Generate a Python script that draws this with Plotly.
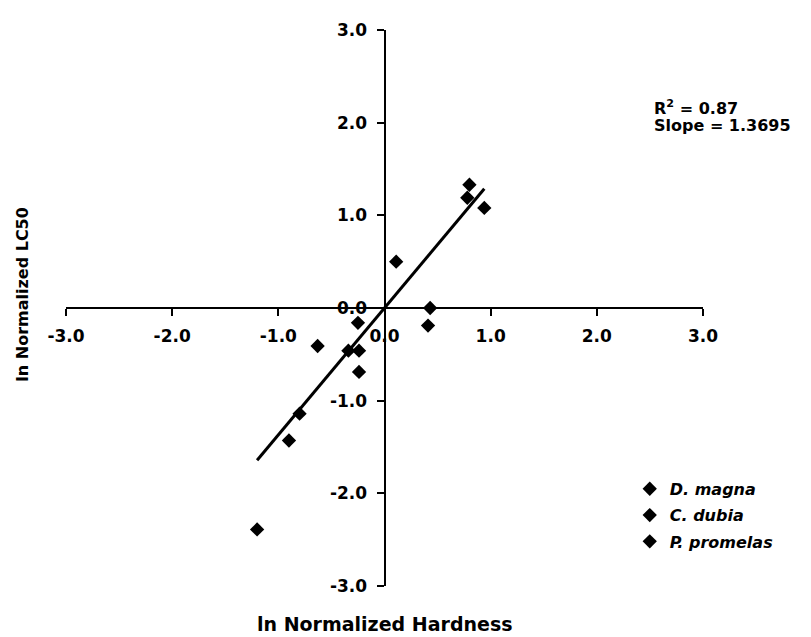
import plotly.graph_objects as go

# ---- data ----
dmagna_x = [-1.20, -0.90, -0.80, -0.25, 0.43]
dmagna_y = [-2.39, -1.43, -1.14, -0.16, 0.00]
cdubia_x = [-0.63, -0.34, -0.24, 0.11, 0.80]
cdubia_y = [-0.41, -0.46, -0.46, 0.50, 1.33]
ppromelas_x = [-0.24, 0.41, 0.78, 0.94]
ppromelas_y = [-0.69, -0.19, 1.19, 1.08]

slope = 1.3695
intercept = 0.0
r_squared = 0.87

tick_vals = [-3, -2, -1, 0, 1, 2, 3]
tick_text = ["-3.0", "-2.0", "-1.0", "0.0", "1.0", "2.0", "3.0"]

series_names = ["D. magna", "C. dubia", "P. promelas"]

FONT = "DejaVu Sans"

fig = go.Figure()
marker = dict(symbol="diamond", size=11, color="black")
for name, xs, ys in zip(series_names,
                        [dmagna_x, cdubia_x, ppromelas_x],
                        [dmagna_y, cdubia_y, ppromelas_y]):
    fig.add_trace(go.Scatter(x=xs, y=ys, mode="markers", name=name, legendgroup=name,
                             marker=marker, cliponaxis=False))

all_x = dmagna_x + cdubia_x + ppromelas_x
x0, x1 = min(all_x), max(all_x)
fig.add_trace(go.Scatter(x=[x0, x1], y=[slope * x0 + intercept, slope * x1 + intercept],
                         mode="lines", line=dict(color="black", width=3),
                         showlegend=False, hoverinfo="skip"))

axis_common = dict(range=[-3, 3], showgrid=False, zeroline=False, showline=True,
                   linecolor="black", linewidth=2, ticks="outside", ticklen=7,
                   tickwidth=2, tickcolor="black", tickvals=tick_vals, ticktext=tick_text,
                   tickfont=dict(family=FONT, size=17, color="black", weight="bold"),
                   anchor="free", position=0.5)

fig.update_layout(
    width=811, height=637,
    margin=dict(l=58, r=116, t=15, b=59),
    paper_bgcolor="white", plot_bgcolor="white",
    xaxis=dict(**axis_common, side="bottom", ticklabelstandoff=6),
    yaxis=dict(**axis_common, side="left", ticklabelstandoff=6),
    legend=dict(x=0.885, y=0.2053, xanchor="left", yanchor="top",
                font=dict(family=FONT, size=16, color="black", weight="bold", style="italic"),
                bgcolor="rgba(0,0,0,0)", itemwidth=30, tracegroupgap=2.5),
    annotations=[
        dict(text="ln Normalized Hardness", x=0.5, y=-0.069, xref="paper", yref="paper",
             xanchor="center", yanchor="middle", showarrow=False,
             font=dict(family=FONT, size=19, color="black", weight="bold")),
        dict(text="ln Normalized LC50", x=-0.0675, y=0.524, xref="paper", yref="paper",
             xanchor="center", yanchor="middle", showarrow=False, textangle=-90,
             font=dict(family=FONT, size=16, color="black", weight="bold")),
        dict(text=f"R<sup>2</sup> = {r_squared:.2f}", x=0.92, y=(586 - 101) / 563,
             xref="paper", yref="paper", xanchor="left", yanchor="middle", showarrow=False,
             font=dict(family=FONT, size=16, color="black", weight="bold")),
        dict(text=f"Slope = {slope:.4f}", x=0.92, y=(586 - 120) / 563,
             xref="paper", yref="paper", xanchor="left", yanchor="middle", showarrow=False,
             font=dict(family=FONT, size=16, color="black", weight="bold")),
    ],
)

fig.write_html("out.html")
